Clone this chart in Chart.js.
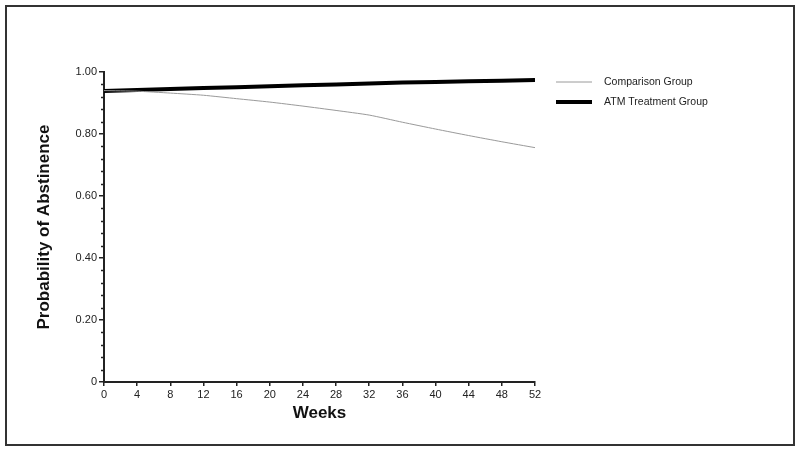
<!DOCTYPE html>
<html>
<head>
<meta charset="utf-8">
<script src="https://cdn.jsdelivr.net/npm/chart.js@4"></script>
<style>
  html, body { margin: 0; padding: 0; background: #fff; }
  #wrap { width: 800px; height: 452px; }
</style>
</head>
<body>
<div id="wrap"><canvas id="myChart" width="800" height="452"></canvas></div>
<script>
// chart data
const weeks = [0, 4, 8, 12, 16, 20, 24, 28, 32, 36, 40, 44, 48, 52];
const comparisonGroup = [0.940, 0.938, 0.932, 0.925, 0.914, 0.903, 0.890, 0.876, 0.861, 0.838, 0.816, 0.795, 0.775, 0.756];
const atmTreatmentGroup = [0.939, 0.942, 0.945, 0.948, 0.951, 0.954, 0.957, 0.960, 0.963, 0.966, 0.968, 0.970, 0.972, 0.974];
const seriesNames = ['Comparison Group', 'ATM Treatment Group'];
const yMajorTicks = [0, 0.2, 0.4, 0.6, 0.8, 1.0];

const FONT = '"Liberation Sans", Arial, sans-serif';
const INK = '#222';

function toPoints(vals) {
    return weeks.map((w, i) => ({ x: w, y: vals[i] }));
}

// outer frame + minor ticks on y axis + legend at the right
const extras = {
    id: 'extras',
    beforeDraw(chart) {
        const c = chart.ctx;
        c.save();
        c.fillStyle = '#fff';
        c.fillRect(0, 0, chart.width, chart.height);
        c.restore();
    },
    afterDraw(chart) {
        const c = chart.ctx;
        const y = chart.scales.y;
        c.save();
        c.strokeStyle = '#333';
        c.lineWidth = 2;
        c.strokeRect(6, 6, 788, 439);

        // minor ticks every 0.04
        c.strokeStyle = INK;
        c.lineWidth = 1.5;
        for (let i = 0; i < yMajorTicks.length - 1; i++) {
            for (let k = 1; k < 5; k++) {
                const v = yMajorTicks[i] + k * 0.04;
                const py = Math.round(y.getPixelForValue(v)) + 0.5;
                c.beginPath();
                c.moveTo(y.right - 3, py);
                c.lineTo(y.right + 1, py);
                c.stroke();
            }
        }

        // legend
        const ds = chart.data.datasets;
        c.font = '10.5px ' + FONT;
        c.textBaseline = 'middle';
        ds.forEach((d, i) => {
            const ly = 82 + i * 20;
            c.strokeStyle = d.borderColor;
            c.lineWidth = d.borderWidth;
            c.beginPath();
            c.moveTo(556, ly);
            c.lineTo(592, ly);
            c.stroke();
            c.fillStyle = INK;
            c.fillText(d.label, 604, ly);
        });
        c.restore();
    }
};

const ctx = document.getElementById('myChart').getContext('2d');
new Chart(ctx, {
    type: 'line',
    data: {
        datasets: [{
            label: seriesNames[0],
            data: toPoints(comparisonGroup),
            borderColor: '#9a9a9a',
            borderWidth: 1,
            pointRadius: 0,
            tension: 0.2
        }, {
            label: seriesNames[1],
            data: toPoints(atmTreatmentGroup),
            borderColor: '#000',
            borderWidth: 4,
            pointRadius: 0,
            tension: 0
        }]
    },
    options: {
        responsive: false,
        animation: false,
        layout: { padding: { left: 30, top: 72, right: 265, bottom: 24 } },
        plugins: { legend: { display: false }, tooltip: { enabled: false } },
        scales: {
            x: {
                type: 'linear',
                min: 0,
                max: 52,
                afterFit(scale) { scale.height = 46; },
                ticks: {
                    stepSize: 4,
                    padding: 2,
                    maxRotation: 0,
                    color: INK,
                    font: { family: FONT, size: 11 }
                },
                grid: {
                    drawOnChartArea: false,
                    tickLength: 4,
                    tickColor: INK,
                    lineWidth: 1.5
                },
                border: { color: INK, width: 2 },
                title: {
                    display: true,
                    text: 'Weeks',
                    color: '#111',
                    padding: { top: 0, bottom: 4 },
                    font: { family: FONT, size: 17, weight: 'bold' }
                }
            },
            y: {
                min: 0,
                max: 1,
                afterFit(scale) { scale.width = 74; },
                ticks: {
                    stepSize: 0.2,
                    padding: 2,
                    color: INK,
                    font: { family: FONT, size: 11 },
                    callback: v => v === 0 ? '0' : v.toFixed(2)
                },
                grid: {
                    drawOnChartArea: false,
                    tickLength: 5,
                    tickColor: INK,
                    lineWidth: 1.5
                },
                border: { color: INK, width: 2 },
                title: {
                    display: true,
                    text: 'Probability of Abstinence',
                    color: '#111',
                    padding: { top: 4, bottom: 0 },
                    font: { family: FONT, size: 17, weight: 'bold' }
                }
            }
        }
    },
    plugins: [extras]
});
</script>
</body>
</html>
